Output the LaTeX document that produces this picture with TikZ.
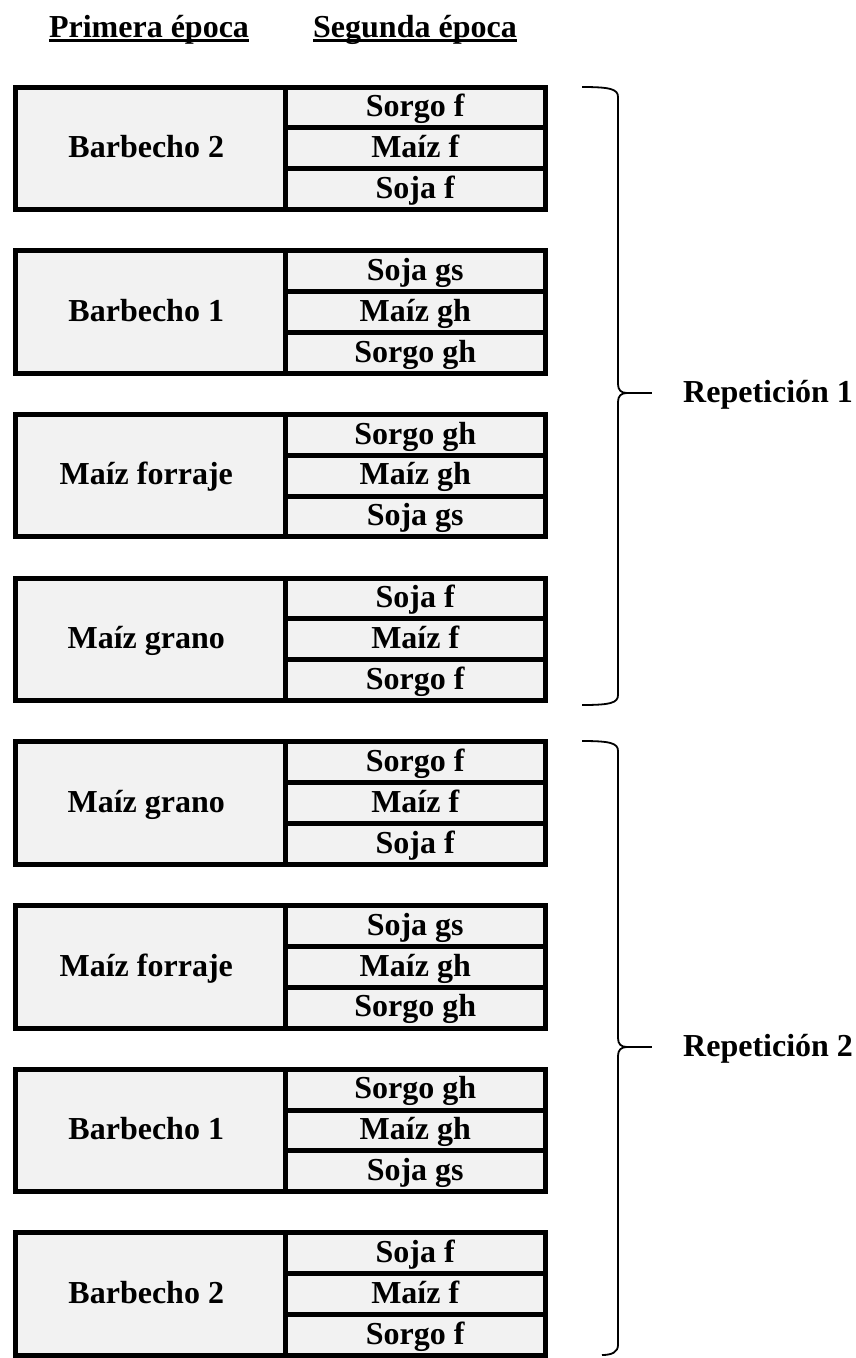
\documentclass[tikz,border=0pt]{standalone}
\usepackage{fontspec}
\setmainfont{Liberation Serif}
\definecolor{cellgray}{HTML}{F2F2F2}
\begin{document}
\begin{tikzpicture}[x=1pt,y=-1pt,
  every node/.style={font=\fontsize{32}{38}\selectfont\bfseries, inner sep=0pt},
  txt/.style={text height=21.5pt, text depth=3pt},
  cell/.style={draw=black, line width=5pt, fill=cellgray, anchor=north west},
  bracepath/.style={draw=black, line width=1.8pt},
  uline/.style={draw=black, line width=2.4pt},
  head/.style={anchor=base}]
\useasboundingbox (0,0) rectangle (855,1358);
\node[head] (h1) at (149,37) {Primera época};
\node[head] (h2) at (415,37) {Segunda época};
\draw[uline] ([yshift=-3.5pt]h1.base west) -- ([yshift=-3.5pt]h1.base east);
\draw[uline] ([yshift=-3.5pt]h2.base west) -- ([yshift=-3.5pt]h2.base east);
\foreach \a/\b/\c/\d [count=\i from 0] in {
  Barbecho 2/Sorgo f/Maíz f/Soja f,
  Barbecho 1/Soja gs/Maíz gh/Sorgo gh,
  Maíz forraje/Sorgo gh/Maíz gh/Soja gs,
  Maíz grano/Soja f/Maíz f/Sorgo f,
  Maíz grano/Sorgo f/Maíz f/Soja f,
  Maíz forraje/Soja gs/Maíz gh/Sorgo gh,
  Barbecho 1/Sorgo gh/Maíz gh/Soja gs,
  Barbecho 2/Soja f/Maíz f/Sorgo f}{
  \pgfmathsetmacro{\t}{84.5+\i*163.7}
  \node[cell, minimum width=270.5pt, minimum height=122.5pt] (L\i) at (12.5,\t) {};
  \node[txt] (Lt\i) at ([xshift=-4pt]L\i.center) {\a};
  \pgfmathsetmacro{\ta}{\t}
  \pgfmathsetmacro{\tb}{\t+40.83}
  \pgfmathsetmacro{\tc}{\t+81.67}
  \node[cell, minimum width=259.5pt, minimum height=40.83pt] (A\i) at (283,\ta) {};
  \node[cell, minimum width=259.5pt, minimum height=40.83pt] (B\i) at (283,\tb) {};
  \node[cell, minimum width=259.5pt, minimum height=40.83pt] (C\i) at (283,\tc) {};
  \node[txt] at (A\i.center) {\b};
  \node[txt] at (B\i.center) {\c};
  \node[txt] at (C\i.center) {\d};
}
\coordinate (r1) at (627,393);
\coordinate (t1) at (652,393);
\coordinate (r2) at (627,1047);
\coordinate (t2) at (652,1047);
\draw[bracepath] (582,87) .. controls (610,87) and (618,89) .. (618,97) -- (618,384)
  .. controls (618,390) and (621,393) .. (r1);
\draw[bracepath] (r1) .. controls (621,393) and (618,396) .. (618,402) -- (618,695)
  .. controls (618,703) and (610,705) .. (582,705);
\draw[bracepath] (r1) -- (t1);
\draw[bracepath] (582,741) .. controls (610,741) and (618,743) .. (618,751) -- (618,1038)
  .. controls (618,1044) and (621,1047) .. (r2);
\draw[bracepath] (r2) .. controls (621,1047) and (618,1050) .. (618,1056) -- (618,1345)
  .. controls (618,1352) and (612,1355) .. (602,1355);
\draw[bracepath] (r2) -- (t2);
\node[txt, anchor=west] (rep1) at (683,393) {Repetición 1};
\node[txt, anchor=west] (rep2) at (683,1047) {Repetición 2};
\end{tikzpicture}
\end{document}
